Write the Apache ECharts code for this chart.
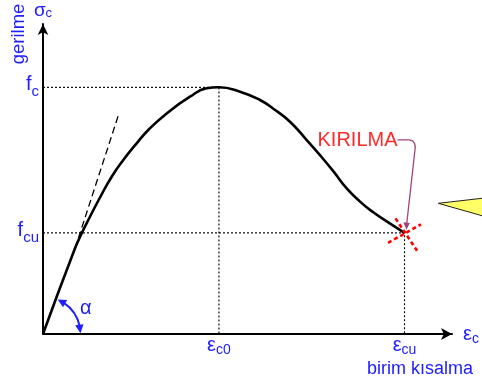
<!DOCTYPE html>
<html><head><meta charset="utf-8">
<script src="https://cdn.jsdelivr.net/npm/echarts@6/dist/echarts.min.js"></script>
<style>html,body{margin:0;padding:0;background:#fff}#c{width:482px;height:380px}</style>
</head><body><div id="c"></div>
<script>
// strain (x) ticks: εc0, εcu
const strainTicks = [2.0, 4.11];
const strainTickSubs = ['c0', 'cu'];
// stress (y) ticks: fcu, fc
const stressTicks = [12.3, 30];
const stressTickSubs = ['cu', 'c'];
// stress-strain curve
const curveStrain = [0, 0.364, 0.44, 0.534, 0.648, 0.781, 0.913, 1.065, 1.197, 1.406, 1.671, 1.861, 2.0, 2.24, 2.467, 2.618, 2.808, 2.998, 3.149, 3.30, 3.453, 3.604, 3.755, 3.908, 4.11];
const curveStress = [0, 10.42, 12.25, 14.26, 16.6, 19.13, 21.16, 23.19, 24.81, 26.82, 28.86, 29.88, 30.0, 29.47, 28.46, 27.4, 25.82, 23.59, 21.75, 19.8, 17.7, 16.1, 14.8, 13.7, 12.3];
// initial tangent (dashed)
const tangentStrain = [0.364, 0.86];
const tangentStress = [10.4, 26.7];
const peakPoint = [2.0, 30];
const failurePoint = [4.11, 12.3];

const BLUE = '#2020ff';
const FONT = '"Liberation Sans", Arial, sans-serif';

function nearestIdx(arr, v) {
  let best = 0;
  arr.forEach((a, i) => { if (Math.abs(a - v) < Math.abs(arr[best] - v)) best = i; });
  return best;
}

const chart = echarts.init(document.getElementById('c'));
const curveData = curveStrain.map((x, i) => [x, curveStress[i]]);
const tangentData = tangentStrain.map((x, i) => [x, tangentStress[i]]);

const dotted = { color: '#111', width: 1.2, type: [2, 2] };

chart.setOption({
  animation: false,
  grid: { left: 43, top: 24, right: 30, bottom: 46, outerBoundsMode: 'none', containLabel: false },
  xAxis: {
    type: 'value', min: 0, max: 4.65,
    axisLine: { lineStyle: { color: '#000', width: 2 }, symbol: ['none', 'arrow'], symbolSize: [9, 11] },
    axisTick: { show: false }, splitLine: { show: false },
    axisLabel: {
      customValues: strainTicks, margin: 1, showMinLabel: true, showMaxLabel: true,
      formatter: v => '{m|ε}{s|' + strainTickSubs[nearestIdx(strainTicks, v)] + '}',
      rich: {
        m: { fontSize: 20, fontFamily: FONT, color: BLUE, padding: [0, 0, 5, 0] },
        s: { fontSize: 14, fontFamily: FONT, color: BLUE, padding: [6, 0, 0, 0] }
      }
    },
    name: '{m|ε}{s|c}', nameLocation: 'end', nameGap: 11,
    nameTextStyle: {
      rich: {
        m: { fontSize: 20, fontFamily: FONT, color: BLUE },
        s: { fontSize: 14, fontFamily: FONT, color: BLUE, padding: [10, 0, 0, 0] }
      }
    }
  },
  yAxis: {
    type: 'value', min: 0, max: 37.7,
    axisLine: { lineStyle: { color: '#000', width: 2 }, symbol: ['none', 'arrow'], symbolSize: [8, 11] },
    axisTick: { show: false }, splitLine: { show: false },
    axisLabel: {
      customValues: stressTicks, margin: 4,
      formatter: v => '{m|f}{s|' + stressTickSubs[nearestIdx(stressTicks, v)] + '}',
      rich: {
        m: { fontSize: 20, fontFamily: FONT, color: BLUE, padding: [0, 0, 5, 0] },
        s: { fontSize: 15, fontFamily: FONT, color: BLUE, padding: [10, 0, 0, 0] }
      }
    },
    name: '{m|σ}{s|c}', nameLocation: 'end', nameGap: 4,
    nameTextStyle: {
      rich: {
        m: { fontSize: 19, fontFamily: FONT, color: BLUE },
        s: { fontSize: 13, fontFamily: FONT, color: BLUE, padding: [6, 0, 0, 0] }
      }
    }
  },
  series: [
    { type: 'line', silent: true, symbol: 'none', lineStyle: dotted, z: 1,
      data: [[0, peakPoint[1]], [peakPoint[0], peakPoint[1]], [peakPoint[0], 0]] },
    { type: 'line', silent: true, symbol: 'none', lineStyle: dotted, z: 1,
      data: [[0, failurePoint[1]], [failurePoint[0], failurePoint[1]], [failurePoint[0], 0]] },
    { type: 'line', silent: true, symbol: 'none', z: 2,
      lineStyle: { color: '#000', width: 1.3, type: [7, 4] }, data: tangentData },
    { type: 'line', silent: true, symbol: 'none', smooth: 0.5, z: 3,
      lineStyle: { color: '#000', width: 2.6 }, data: curveData }
  ]
});

// annotations
const O = chart.convertToPixel({ gridIndex: 0 }, [0, 0]);
const E = chart.convertToPixel({ gridIndex: 0 }, failurePoint);
const R = 37.5;
function arrowHead(tipAng, baseAng, r, cx, cy, half, fill) {
  const tip = [cx + r * Math.cos(tipAng), cy + r * Math.sin(tipAng)];
  const bc = [cx + r * Math.cos(baseAng), cy + r * Math.sin(baseAng)];
  const dx = tip[0] - bc[0], dy = tip[1] - bc[1];
  const len = Math.hypot(dx, dy);
  const px = -dy / len * half, py = dx / len * half;
  return { type: 'polygon', silent: true, z: 10,
    shape: { points: [tip, [bc[0] + px, bc[1] + py], [bc[0] - px, bc[1] - py]] },
    style: { fill: fill } };
}
const txt = (text, x, y, size, color, align, vAlign, extra) => Object.assign({
  type: 'text', silent: true, z: 10, x: x, y: y,
  style: { text: text, x: 0, y: 0, font: size + 'px ' + FONT, fill: color,
    align: align, textAlign: align, verticalAlign: vAlign, textVerticalAlign: vAlign }
}, extra || {});

const red = { stroke: '#ff0000', lineWidth: 2.6, lineDash: [4, 3] };
const purple = '#a0437c';

chart.setOption({
  graphic: [
    // alpha arc
    { type: 'arc', silent: true, z: 10,
      shape: { cx: O[0], cy: O[1], r: R, startAngle: -0.98, endAngle: -0.2, clockwise: true },
      style: { stroke: BLUE, lineWidth: 2, fill: null } },
    arrowHead(-1.17, -0.94, R, O[0], O[1], 4.2, BLUE),
    arrowHead(-0.02, -0.25, R, O[0], O[1], 4.2, BLUE),
    txt('α', O[0] + 37, O[1] - 26, 20, BLUE, 'left', 'middle'),
    // axis titles
    txt('gerilme', 18.7, 34, 18.5, BLUE, 'center', 'middle', { rotation: Math.PI / 2 }),
    txt('birim kısalma', 420, 368.7, 18, BLUE, 'center', 'middle'),
    // failure mark
    { type: 'line', silent: true, z: 11, shape: { x1: E[0] - 16.5, y1: E[1] + 10, x2: E[0] + 16.5, y2: E[1] - 8.5 }, style: red },
    { type: 'line', silent: true, z: 11, shape: { x1: E[0] - 9, y1: E[1] - 14.5, x2: E[0] + 14, y2: E[1] + 20 }, style: red },
    // KIRILMA label with connector
    txt('KIRILMA', E[0] - 7, E[1] - 92.5, 20, '#ff2a2a', 'right', 'middle'),
    { type: 'polyline', silent: true, z: 11,
      shape: { points: [[E[0] - 7, E[1] - 93], [E[0] + 5, E[1] - 93], [E[0] + 8, E[1] - 92], [E[0] + 10, E[1] - 89.5], [E[0] + 10.8, E[1] - 86], [E[0] + 2.2, E[1] - 9]] },
      style: { stroke: purple, lineWidth: 1.3, fill: null } },
    { type: 'polygon', silent: true, z: 11,
      shape: { points: [[E[0] + 2, E[1] - 3], [E[0] - 1.2, E[1] - 10.5], [E[0] + 5.3, E[1] - 9.8]] },
      style: { fill: purple } },
    // cut-off yellow callout at right edge
    { type: 'polygon', silent: true, z: 5,
      shape: { points: [[438.3, 203.3], [490, 197.4], [490, 218]] },
      style: { fill: '#ffff66', stroke: '#222', lineWidth: 1 } }
  ]
});
</script>
</body></html>
